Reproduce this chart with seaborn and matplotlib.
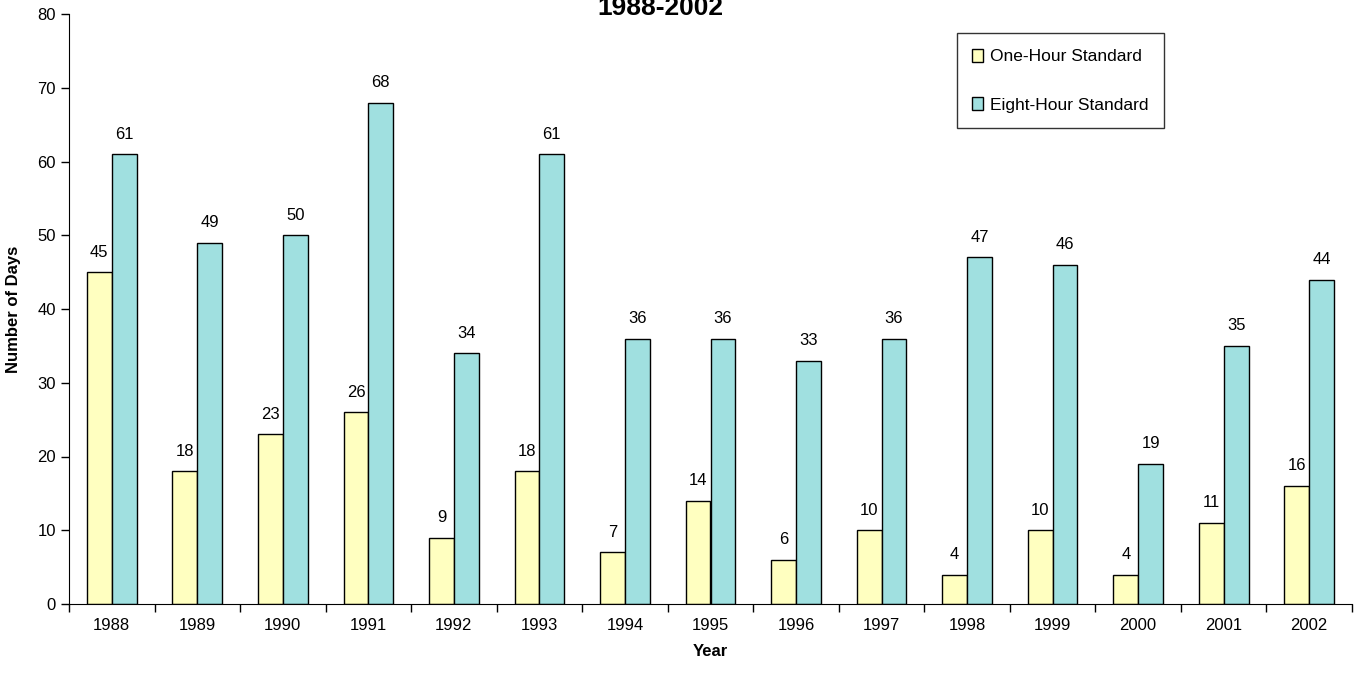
import numpy as np
import pandas as pd
import matplotlib.pyplot as plt
import seaborn as sns

years = [str(y) for y in range(1988, 2003)]
one_hour = [45, 18, 23, 26, 9, 18, 7, 14, 6, 10, 4, 10, 4, 11, 16]
eight_hour = [61, 49, 50, 68, 34, 61, 36, 36, 33, 36, 47, 46, 19, 35, 44]
series = ["One-Hour Standard", "Eight-Hour Standard"]

df = pd.DataFrame({
    "Year": years * 2,
    "Days": one_hour + eight_hour,
    "Standard": [series[0]] * len(years) + [series[1]] * len(years),
})

sns.set_style("white")
plt.rcParams['font.family'] = ['Liberation Sans', 'DejaVu Sans']
plt.rcParams['text.color'] = 'black'
plt.rcParams['axes.labelcolor'] = 'black'
plt.rcParams['xtick.color'] = 'black'
plt.rcParams['ytick.color'] = 'black'

fig = plt.figure(figsize=(13.59, 6.79), dpi=100)
ax = fig.add_axes([69 / 1359, 75 / 679, (1352 - 69) / 1359, (604 - 14) / 679])
sns.barplot(data=df, x="Year", y="Days", hue="Standard", ax=ax,
            palette=["#FFFFC0", "#A0E0E0"], width=0.58, gap=0,
            edgecolor="black", linewidth=1, saturation=1)

for cont in ax.containers:
    ax.bar_label(cont, padding=9, fontsize=12, color="black")

ax.set_xlim(-0.5, len(years) - 0.5)
ax.set_ylim(0, 80)
ax.set_yticks(range(0, 81, 10))
ax.set_xticks(np.arange(-0.5, len(years), 1.0), minor=True)
ax.tick_params(axis='x', which='major', length=0, labelsize=12, pad=10)
ax.tick_params(axis='x', which='minor', length=6, width=1, direction='out', bottom=True)
ax.tick_params(axis='y', length=6, width=1, direction='out', left=True, labelsize=12)
for s in ["top", "right"]:
    ax.spines[s].set_visible(False)
for s in ["left", "bottom"]:
    ax.spines[s].set_color("black")
ax.set_xlabel("Year", fontsize=12, fontweight="bold", labelpad=8)
ax.set_ylabel("Number of Days", fontsize=12, fontweight="bold", labelpad=12)

leg = ax.legend(loc="upper left", bbox_to_anchor=(0.692, 0.968), fontsize=12.5,
                frameon=True, fancybox=False, edgecolor="black",
                handlelength=0.6, handleheight=0.8, labelspacing=1.9,
                borderpad=0.9, handletextpad=0.4, borderaxespad=0)
leg.get_frame().set_linewidth(1)

fig.text(660 / 1359, 1.0 - 8 / 679, "1988-2002", ha="center", va="center",
         fontsize=19, fontweight="bold")

fig.savefig("out.png", dpi=100)
